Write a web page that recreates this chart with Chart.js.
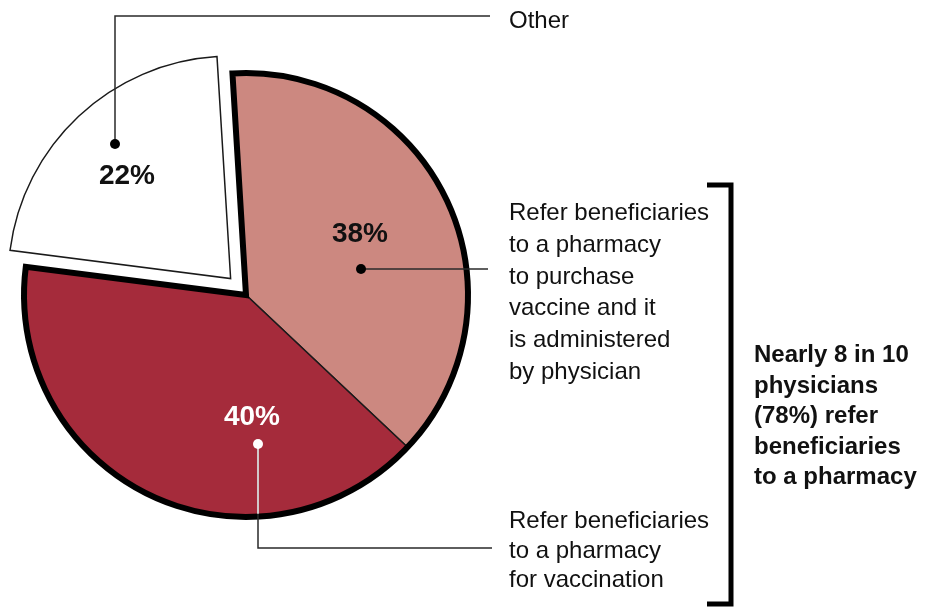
<!DOCTYPE html>
<html>
<head>
<meta charset="utf-8">
<script src="https://cdn.jsdelivr.net/npm/chart.js@4.4.1/dist/chart.umd.min.js"></script>
<style>
  body { margin: 0; background: #fff; }
  canvas { display: block; }
</style>
</head>
<body>
<canvas id="pieChart" width="930" height="609"></canvas>
<script>
var categories = ["Refer beneficiaries to a pharmacy to purchase vaccine and it is administered by physician",
                  "Refer beneficiaries to a pharmacy for vaccination",
                  "Other"]
var shares = [38, 40, 22]
var shareLabels = ["38%", "40%", "22%"]
var colors = ["#cc8880", "#a52b3b", "#ffffff"]
var purchaseLines = ["Refer beneficiaries", "to a pharmacy", "to purchase", "vaccine and it", "is administered", "by physician"]
var vaccinationLines = ["Refer beneficiaries", "to a pharmacy", "for vaccination"]
var otherLines = ["Other"]
var summaryLines = ["Nearly 8 in 10", "physicians", "(78%) refer", "beneficiaries", "to a pharmacy"]

var FONT = "'Liberation Sans', Arial, Helvetica, sans-serif"
var INK = "#111"
var LEADER = "#2a2a2a"

function dot(ctx, x, y, fill){
    ctx.beginPath()
    ctx.arc(x, y, 5, 0, Math.PI * 2)
    ctx.fillStyle = fill
    ctx.fill()
}

function textBlock(ctx, lines, x, y, step){
    for (var i = 0; i < lines.length; i++) {
        ctx.fillText(lines[i], x, y + i * step)
    }
}

// thick outline around the two "pharmacy" slices together
var outlinePlugin = {
    id: "outline78",
    afterDatasetsDraw(chart){
        var ctx = chart.ctx
        var arcs = chart.getDatasetMeta(0).data
        var a0 = arcs[0], a1 = arcs[1]
        ctx.save()
        ctx.beginPath()
        ctx.moveTo(a0.x, a0.y)
        ctx.arc(a0.x, a0.y, a0.outerRadius, a0.startAngle, a1.endAngle)
        ctx.closePath()
        ctx.lineWidth = 6
        ctx.lineJoin = "miter"
        ctx.strokeStyle = "#000"
        ctx.stroke()
        ctx.restore()
    }
}

var notesPlugin = {
    id: "notes",
    afterDraw(chart){
        var ctx = chart.ctx
        var arcs = chart.getDatasetMeta(0).data
        var cx = arcs[0].x, cy = arcs[0].y, r = arcs[0].outerRadius
        ctx.save()
        ctx.lineWidth = 1.5
        ctx.strokeStyle = LEADER

        // Other
        ctx.beginPath()
        ctx.moveTo(115, 144)
        ctx.lineTo(115, 16)
        ctx.lineTo(490, 16)
        ctx.stroke()
        dot(ctx, 115, 144, "#000")

        // 38%
        ctx.beginPath()
        ctx.moveTo(361, 269)
        ctx.lineTo(488, 269)
        ctx.stroke()
        dot(ctx, 361, 269, "#000")

        // 40%
        ctx.beginPath()
        ctx.moveTo(258, 444)
        ctx.lineTo(258, 548)
        ctx.lineTo(492, 548)
        ctx.stroke()
        var edgeY = cy + Math.sqrt((r - 3) * (r - 3) - (258 - cx) * (258 - cx))
        ctx.strokeStyle = "#fff"
        ctx.beginPath()
        ctx.moveTo(258, 444)
        ctx.lineTo(258, edgeY)
        ctx.stroke()
        dot(ctx, 258, 444, "#fff")

        // slice values
        ctx.textAlign = "center"
        ctx.textBaseline = "alphabetic"
        ctx.font = "bold 28px " + FONT
        ctx.fillStyle = INK
        ctx.fillText(shareLabels[0], 360, 242)
        ctx.fillText(shareLabels[2], 127, 184)
        ctx.fillStyle = "#fff"
        ctx.fillText(shareLabels[1], 252, 425)

        // descriptions
        ctx.textAlign = "left"
        ctx.fillStyle = INK
        ctx.font = "24px " + FONT
        textBlock(ctx, otherLines, 509, 28, 31)
        textBlock(ctx, purchaseLines, 509, 220, 31.8)
        textBlock(ctx, vaccinationLines, 509, 528, 29.5)

        // bracket
        ctx.strokeStyle = "#000"
        ctx.lineWidth = 5
        ctx.lineJoin = "miter"
        ctx.beginPath()
        ctx.moveTo(707, 185)
        ctx.lineTo(731, 185)
        ctx.lineTo(731, 604)
        ctx.lineTo(707, 604)
        ctx.stroke()

        ctx.font = "bold 24px " + FONT
        textBlock(ctx, summaryLines, 754, 362, 30.5)
        ctx.restore()
    }
}

var canvas = document.getElementById("pieChart").getContext("2d")

var chart = new Chart(canvas, {
    type: "pie",
    data: {
        labels: categories,
        datasets: [{
            data: shares,
            backgroundColor: colors,
            borderColor: "#1a1a1a",
            borderWidth: 1.5,
            borderJoinStyle: "miter",
            offset: [0, 0, 90]
        }]
    },
    options: {
        responsive: false,
        animation: false,
        events: [],
        rotation: -3.5,
        radius: 222,
        layout: { padding: { left: 0, top: 0, right: 438, bottom: 19 } },
        plugins: {
            legend: { display: false },
            tooltip: { enabled: false }
        }
    },
    plugins: [outlinePlugin, notesPlugin]
})
</script>
</body>
</html>
